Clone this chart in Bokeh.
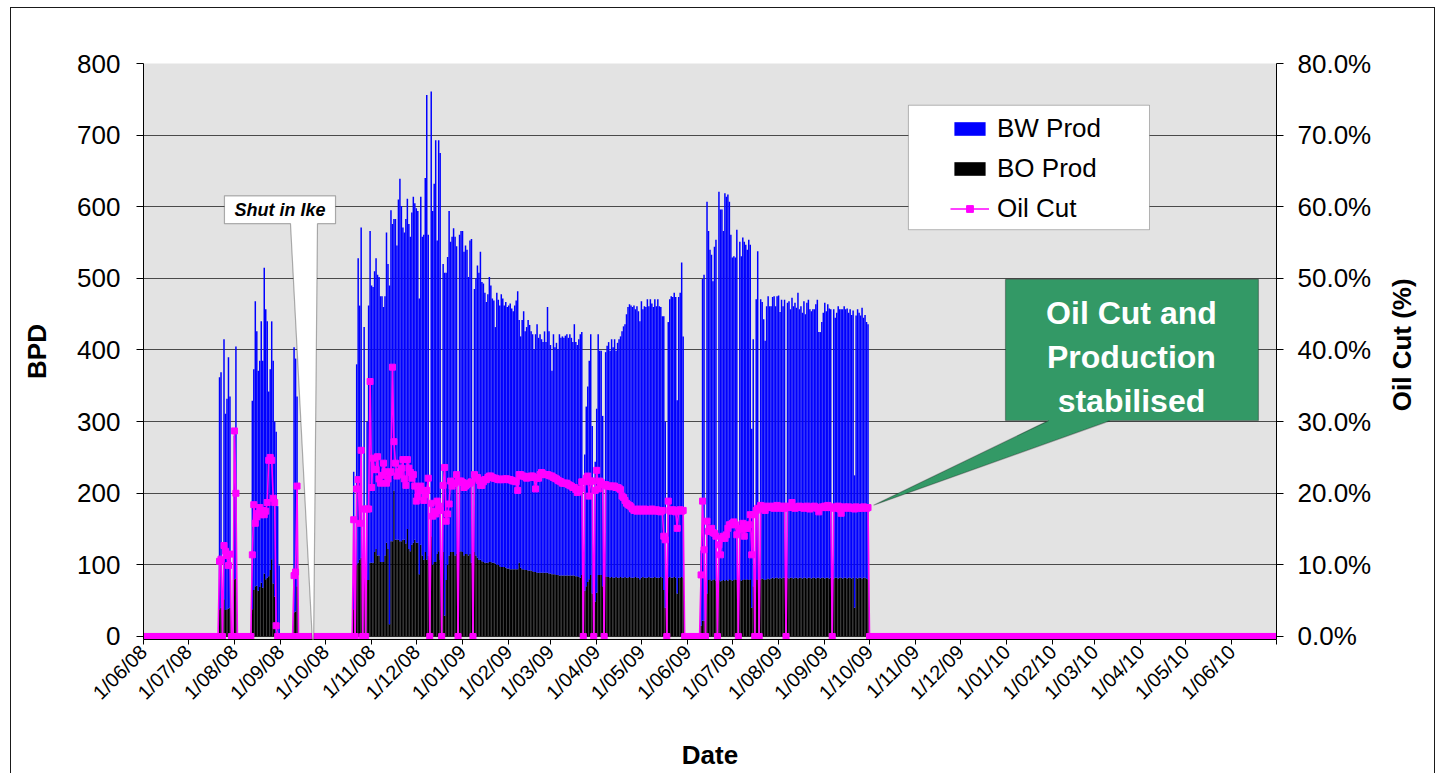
import math
import pandas as pd
from bokeh.plotting import figure
from bokeh.layouts import row
from bokeh.core.properties import value
from bokeh.models import (Range1d, LinearAxis, FixedTicker, PrintfTickFormatter,
                          Legend, LegendItem, BoxAnnotation, PolyAnnotation, Label,
                          ColumnDataSource, InlineStyleSheet)
from bokeh.embed import file_html
from bokeh.resources import INLINE

# ---------------------------------------------------------------- data
AXIS_START = "2008-06-01"
AXIS_END = "2010-07-01"
PROD_START = "2008-07-22"      # first day of the daily production arrays
CUT_LAST_DAY = "2010-06-30"    # oil cut series runs (at 0) to here

TICK_LABELS = ["1/06/08", "1/07/08", "1/08/08", "1/09/08", "1/10/08", "1/11/08",
               "1/12/08", "1/01/09", "1/02/09", "1/03/09", "1/04/09", "1/05/09",
               "1/06/09", "1/07/09", "1/08/09", "1/09/09", "1/10/09", "1/11/09",
               "1/12/09", "1/01/10", "1/02/10", "1/03/10", "1/04/10", "1/05/10",
               "1/06/10"]
BPD_TICKS = [0, 100, 200, 300, 400, 500, 600, 700, 800]
CUT_TICKS = [0, 10, 20, 30, 40, 50, 60, 70, 80]
SERIES = ["BW Prod", "BO Prod", "Oil Cut"]

# daily total fluid (top of stacked BW Prod column), BPD
TOTAL_FLUID = [
    362, 369, 0, 415, 311, 332, 390, 335, 0, 0, 280, 405,
    *([0] * 10),
    329, 373, 468, 426, 371, 385, 440, 385, 515, 457,
    440, 342, 373, 440, 385, 300, 286, 182, 99,
    *([0] * 9),
    404, 388, 335,
    *([0] * 37),
    230, 0, 380, 528, 462, 571, 0, 432, 0, 300,
    462, 566, 490, 488, 510, 528, 505, 502, 475, 475,
    460, 475, 564, 520, 490, 595, 576, 583, 583, 546,
    610, 639, 601, 571, 564, 583, 611, 576, 558, 592,
    614, 605, 598, 594, 472, 614, 558, 561, 640, 756,
    561, 0, 761, 594, 632, 693, 553, 693, 675, 0,
    520, 508, 508, 530, 594, 551, 558, 570, 558, 545,
    0, 561, 566, 566, 537, 546, 540, 502, 553, 555,
    0, 485, 500, 518, 508, 537, 495, 493, 480, 467,
    478, 502, 490, 472, 469, 432, 480, 470, 462, 478,
    472, 462, 467, 460, 462, 465, 458, 454, 462, 469,
    482, 442, 419, 442, 454, 426, 432, 442, 435, 426,
    422, 401, 422, 436, 417, 422, 415, 411, 426, 411,
    460, 426, 407, 371, 422, 404, 410, 401, 422, 417,
    419, 417, 420, 422, 417, 422, 417, 411, 436, 411,
    407, 415, 422, 425, 0, 254, 321, 349, 385, 422,
    294, 0, 244, 318, 422, 399, 399, 308, 0, 397,
    406, 411, 399, 415, 404, 415, 399, 410, 415, 419,
    426, 433, 436, 450, 460, 464, 462, 460, 462, 457,
    461, 454, 440, 468, 457, 461, 460, 471, 461, 471,
    465, 460, 471, 461, 471, 461, 460, 447, 447, 300,
    0, 439, 471, 475, 474, 480, 474, 330, 474, 480,
    522, 419, 0, 0, 0, 0, 0, 0, 0, 0,
    0, 0, 0, 120, 499, 505, 0, 607, 566, 540,
    533, 496, 544, 554, 0, 621, 596, 596, 566, 619,
    614, 617, 607, 561, 529, 531, 529, 568, 0, 551,
    531, 557, 551, 547, 540, 554, 547, 290, 415, 0,
    471, 538, 0, 471, 467, 443, 413, 461, 475, 461,
    461, 474, 475, 461, 475, 476, 453, 470, 461, 470,
    0, 466, 468, 457, 473, 461, 466, 459, 480, 457,
    461, 452, 468, 450, 466, 470, 457, 454, 457, 457,
    464, 470, 425, 425, 439, 452, 466, 454, 464, 458,
    457, 0, 457, 445, 452, 461, 457, 457, 457, 461,
    457, 458, 452, 457, 449, 455, 225, 448, 457, 452,
    448, 459, 445, 449, 439, 436,
]

# daily BO Prod, BPD (bottom segment of the column)
BO_PROD = [
    38, 40, 0, 52, 37, 38, 39, 40, 0, 0, 80, 81,
    *([0] * 10),
    38, 65, 70, 71, 64, 69, 75, 68, 88, 80,
    82, 84, 93, 108, 74, 56, 5, 0, 0,
    *([0] * 9),
    34, 35, 70,
    *([0] * 37),
    38, 0, 100, 103, 107, 110, 0, 90, 0, 79,
    79, 103, 103, 103, 118, 122, 113, 113, 104, 104,
    104, 113, 131, 122, 17, 133, 133, 204, 135, 135,
    135, 133, 133, 135, 135, 130, 150, 122, 119, 128,
    131, 135, 131, 131, 87, 128, 113, 107, 118, 107,
    113, 0, 140, 100, 104, 104, 115, 119, 107, 0,
    118, 29, 79, 100, 113, 118, 118, 118, 113, 115,
    0, 118, 119, 118, 113, 115, 115, 113, 115, 103,
    0, 118, 113, 110, 107, 107, 105, 104, 103, 103,
    103, 104, 104, 103, 103, 102, 100, 100, 98, 97,
    97, 97, 96, 95, 95, 94, 94, 94, 94, 94,
    94, 103, 96, 94, 94, 93, 93, 92, 92, 92,
    91, 90, 90, 89, 89, 89, 89, 89, 89, 89,
    89, 88, 88, 87, 87, 87, 86, 86, 85, 85,
    85, 85, 85, 85, 85, 85, 85, 85, 85, 84,
    84, 83, 82, 86, 0, 64, 70, 76, 80, 86,
    60, 0, 49, 61, 86, 86, 86, 70, 0, 84,
    83, 83, 82, 83, 82, 82, 83, 82, 82, 83,
    82, 82, 83, 82, 82, 83, 82, 82, 82, 83,
    82, 82, 80, 82, 83, 82, 82, 82, 83, 82,
    82, 82, 83, 82, 82, 82, 83, 82, 65, 40,
    0, 82, 83, 82, 82, 83, 82, 60, 82, 82,
    83, 82, 0, 0, 0, 0, 0, 0, 0, 0,
    0, 0, 0, 15, 22, 22, 0, 60, 79, 80,
    78, 79, 80, 78, 0, 79, 77, 78, 79, 78,
    79, 78, 80, 79, 78, 79, 80, 79, 0, 80,
    78, 79, 80, 79, 80, 79, 80, 40, 70, 0,
    80, 79, 0, 80, 81, 80, 79, 80, 81, 80,
    81, 82, 81, 82, 82, 81, 82, 81, 82, 82,
    0, 82, 81, 82, 82, 81, 82, 82, 81, 82,
    82, 81, 82, 82, 81, 82, 82, 81, 82, 82,
    81, 82, 82, 81, 82, 82, 81, 82, 82, 81,
    82, 0, 81, 82, 82, 81, 82, 82, 81, 82,
    82, 81, 82, 82, 81, 82, 40, 82, 81, 82,
    82, 81, 82, 82, 81, 80,
]

# daily oil cut, % (same days as the production arrays)
OIL_CUT = [
    10.5, 10.8, 0, 12.7, 11.9, 11.3, 9.9, 11.5, 0, 0, 28.7, 20.0,
    *([0] * 10),
    11.4, 18.4, 15.8, 16.7, 17.2, 18.0, 17.0, 17.6, 17.0, 17.5,
    18.7, 24.6, 25.0, 24.6, 19.3, 18.7, 1.5, 0, 0,
    *([0] * 9),
    8.5, 9.0, 21.0,
    *([0] * 37),
    16.3, 0, 20.6, 21.9, 15.8, 26.0, 0, 17.8, 0, 17.8,
    17.8, 35.6, 20.8, 24.9, 23.3, 23.3, 25.1, 22.0, 21.4, 22.5,
    24.2, 23.0, 21.4, 22.0, 22.9, 23.0, 37.6, 27.2, 24.2, 22.4,
    23.0, 22.6, 23.5, 24.7, 22.0, 21.1, 24.7, 23.5, 22.9, 22.1,
    22.6, 21.0, 18.9, 19.5, 20.4, 21.0, 20.4, 19.0, 19.8, 20.4,
    22.1, 0, 18.6, 16.8, 17.5, 17.1, 18.9, 18.2, 17.6, 0,
    21.1, 23.6, 16.1, 17.1, 18.5, 21.7, 21.0, 21.4, 21.4, 22.6,
    0, 21.7, 21.7, 21.5, 20.8, 21.0, 21.2, 21.4, 21.4, 21.6,
    0, 22.6, 22.1, 22.2, 21.8, 21.1, 21.1, 21.6, 21.9, 21.9,
    22.2, 22.4, 22.4, 22.2, 22.1, 22.1, 22.0, 21.9, 21.9, 21.9,
    22.0, 21.9, 22.0, 22.0, 21.9, 21.9, 21.8, 21.7, 21.7, 21.6,
    20.4, 22.6, 22.6, 22.4, 22.4, 22.3, 22.1, 22.2, 22.3, 22.4,
    22.4, 22.2, 20.6, 22.1, 22.1, 22.6, 22.9, 22.7, 22.6, 22.6,
    22.6, 22.5, 22.4, 22.4, 22.2, 22.1, 22.0, 21.8, 21.7, 21.6,
    21.4, 21.4, 21.4, 21.4, 21.2, 21.1, 21.0, 20.8, 20.8, 20.5,
    20.1, 20.3, 20.6, 21.6, 0, 21.6, 22.1, 22.4, 19.6, 21.7,
    21.7, 0, 20.4, 23.2, 20.6, 21.7, 21.5, 21.2, 0, 21.2,
    21.0, 21.0, 21.0, 20.9, 21.0, 21.0, 20.8, 20.8, 20.7, 20.5,
    19.6, 19.4, 19.0, 18.6, 18.4, 18.3, 18.1, 17.8, 17.6, 17.7,
    17.5, 17.8, 17.6, 17.7, 17.5, 17.8, 17.6, 17.7, 17.5, 17.6,
    17.8, 17.6, 17.5, 17.7, 17.6, 17.5, 17.4, 17.6, 14.0, 13.5,
    0, 18.9, 17.6, 17.5, 17.7, 17.6, 17.4, 15.1, 17.6, 17.7,
    17.5, 17.6, 0, 0, 0, 0, 0, 0, 0, 0,
    0, 0, 0, 8.6, 18.9, 12.1, 0, 16.1, 14.7, 14.7,
    15.1, 14.5, 14.4, 14.0, 0, 12.8, 11.4, 13.7, 14.0, 13.7,
    14.2, 15.1, 15.6, 15.6, 15.8, 16.0, 15.6, 14.2, 0, 14.9,
    15.1, 15.8, 14.0, 15.1, 15.1, 15.6, 17.0, 11.4, 17.0, 0,
    17.6, 17.9, 0, 18.3, 17.8, 18.0, 17.6, 18.2, 18.0, 18.1,
    18.0, 18.2, 17.9, 18.0, 18.3, 18.1, 17.9, 18.0, 18.2, 17.9,
    0, 18.0, 18.2, 18.1, 18.7, 18.0, 17.9, 18.1, 18.0, 18.2,
    18.0, 18.1, 17.9, 18.0, 18.2, 18.0, 17.8, 18.0, 18.1, 18.2,
    18.0, 17.9, 17.4, 18.0, 18.1, 18.0, 18.2, 18.0, 18.3, 18.0,
    18.1, 0, 17.9, 18.0, 18.1, 18.2, 17.8, 17.2, 18.0, 18.1,
    17.9, 18.0, 18.1, 18.0, 17.9, 18.0, 17.8, 18.1, 18.0, 17.9,
    18.0, 17.9, 18.1, 18.0, 17.9, 18.0,
]

# ---------------------------------------------------------------- build
n = len(TOTAL_FLUID)
if not (len(BO_PROD) == n and len(OIL_CUT) == n):
    raise ValueError(f"lengths {len(TOTAL_FLUID)} {len(BO_PROD)} {len(OIL_CUT)}")

t0 = pd.Timestamp(AXIS_START)


def day(s):
    return (pd.Timestamp(s) - t0).days


d_first = day(PROD_START)
x_end = day(AXIS_END)
d_last = day(CUT_LAST_DAY)

prod = ColumnDataSource(dict(
    x=list(range(d_first, d_first + n)),
    total=TOTAL_FLUID,
    bo=BO_PROD,
))
cut_x = list(range(0, d_last + 1))
cut_y = [0.0] * d_first + OIL_CUT + [0.0] * (d_last + 1 - d_first - n)
cut = ColumnDataSource(dict(x=cut_x, y=cut_y))

FONT = "Liberation Sans"
Y_MIN = -4.2
MAIN_W, SIDE_W, H = 1385, 52, 773

p = figure(width=MAIN_W, height=H,
           x_range=Range1d(0, x_end), y_range=Range1d(Y_MIN, 800),
           output_backend="svg", toolbar_location=None,
           min_border_left=143, min_border_right=MAIN_W - 1276,
           min_border_top=63, min_border_bottom=131,
           background_fill_color="#E3E3E3", border_fill_color="white",
           outline_line_color=None)
p.extra_y_ranges = {"cut": Range1d(Y_MIN / 10.0, 80)}
p.stylesheets = [InlineStyleSheet(css=(
    ":host { overflow: visible; } "
    ":host::after { content: ''; position: absolute; left: 10px; top: 7px; "
    "width: 1425px; height: 790px; border: 1.5px solid #1a1a1a; "
    "box-sizing: border-box; pointer-events: none; z-index: 50; }"
))]

# grid
p.xgrid.visible = False
p.ygrid.ticker = FixedTicker(ticks=BPD_TICKS)
p.ygrid.grid_line_color = "#4a4a4a"
p.ygrid.grid_line_width = 1


def style_axis(ax, label_size="26px"):
    ax.axis_line_color = "black"
    ax.axis_line_width = 1
    ax.major_tick_line_color = "black"
    ax.minor_tick_line_color = None
    ax.major_tick_in = 0
    ax.major_label_text_font = FONT
    ax.major_label_text_font_size = label_size
    ax.major_label_text_color = "black"
    ax.axis_label_text_font = FONT
    ax.axis_label_text_font_size = "26px"
    ax.axis_label_text_font_style = "bold"
    ax.axis_label_text_color = "black"


# left axis
ya = p.yaxis[0]
ya.ticker = FixedTicker(ticks=BPD_TICKS)
ya.axis_label = "BPD"
style_axis(ya)
ya.major_tick_out = 7
ya.major_label_standoff = 16
ya.axis_label_standoff = 22

# right axis (ticks and percentages)
ra = LinearAxis(y_range_name="cut", ticker=FixedTicker(ticks=CUT_TICKS),
                formatter=PrintfTickFormatter(format="%.1f%%"))
style_axis(ra)
ra.major_tick_out = 7
ra.major_label_standoff = 14
p.add_layout(ra, "right")

# bottom axis
tick_pos = [day(pd.to_datetime(t, format="%d/%m/%y")) for t in TICK_LABELS] + [x_end]
overrides = {pos: lab for pos, lab in zip(tick_pos, TICK_LABELS + [""])}
xa = p.xaxis[0]
xa.ticker = FixedTicker(ticks=tick_pos)
xa.major_label_overrides = overrides
style_axis(xa, label_size="20px")
xa.major_tick_out = 5
xa.major_label_standoff = 4
xa.major_label_orientation = math.pi / 4
xa.axis_label = "Date"
xa.axis_label_standoff = 26

# bars: BO Prod at the bottom, BW Prod stacked on top of it
bo_r = p.vbar(x="x", width=1.0, bottom=0, top="bo", source=prod,
              fill_color="#000000", line_color=None)
bw_r = p.vbar(x="x", width=1.0, bottom="bo", top="total", source=prod,
              fill_color="#0000FF", line_color=None)

line_r = p.line(x="x", y="y", source=cut, y_range_name="cut",
                line_color="#FF00FF", line_width=1.6)
mark_r = p.scatter(x="x", y="y", source=cut, y_range_name="cut",
                   marker="square", size=6, fill_color="#FF00FF",
                   line_color="#FF00FF")

# legend box + legend
p.add_layout(BoxAnnotation(left=513.1, right=674.8, bottom=568, top=741.7,
                           fill_color="white", fill_alpha=1.0,
                           line_color="#202020", line_width=1))
legend = Legend(items=[
    LegendItem(label=SERIES[0], renderers=[bw_r]),
    LegendItem(label=SERIES[1], renderers=[bo_r]),
    LegendItem(label=SERIES[2], renderers=[line_r, mark_r]),
], location=(799, 406))
legend.label_text_font = FONT
legend.label_text_font_size = "26px"
legend.label_text_color = "black"
legend.glyph_width = 39
legend.glyph_height = 17
legend.label_height = 34
legend.spacing = 6
legend.padding = 8
legend.margin = 0
legend.label_standoff = 8
legend.border_line_alpha = 0
legend.background_fill_alpha = 0
p.add_layout(legend, "center")

# callout: Shut in Ike
p.add_layout(PolyAnnotation(
    xs=[54.3, 128.8, 128.8, 116.7, 114.0, 98.6, 54.3],
    ys=[615.3, 615.3, 576.4, 576.4, -34.0, 576.4, 576.4],
    fill_color="white", fill_alpha=1.0, line_color="black", line_width=1.2))
p.add_layout(Label(x=91.6, y=595.8, text="Shut in Ike", text_font=FONT,
                   text_font_style="bold italic", text_font_size="18px",
                   text_color="black", text_align="center",
                   text_baseline="middle"))

# callout: stabilised
p.add_layout(PolyAnnotation(
    xs=[578.2, 747.9, 747.9, 648.6, 489.7, 607.1, 578.2],
    ys=[498.6, 498.6, 301.4, 301.4, 183.3, 301.4, 301.4],
    fill_color="#339966", fill_alpha=1.0, line_color="black", line_width=1.2))
for txt, yy in (("Oil Cut and", 451.4), ("Production", 390.3), ("stabilised", 329.2)):
    p.add_layout(Label(x=662.7, y=yy, text=txt, text_font=FONT,
                       text_font_style="bold", text_font_size="32px",
                       text_color="white", text_align="center",
                       text_baseline="middle"))

# narrow strip to the right carrying the right-axis title (reads upwards)
s = figure(width=SIDE_W, height=H, x_range=Range1d(0, SIDE_W),
           y_range=Range1d(0, H), output_backend="svg", toolbar_location=None,
           min_border_left=0, min_border_right=0, min_border_top=0,
           min_border_bottom=0, x_axis_location=None, y_axis_location=None,
           background_fill_color="white", border_fill_color="white",
           outline_line_color=None)
s.xgrid.visible = False
s.ygrid.visible = False
s.text(x=[16], y=[H - 377.5], text=["Oil Cut (%)"], angle=math.pi / 2,
       text_align="center", text_baseline="middle", text_font=value(FONT),
       text_font_style="bold", text_font_size="26px", text_color="black")

layout = row(p, s, spacing=0)
open("out.html", "w").write(file_html(layout, INLINE))
